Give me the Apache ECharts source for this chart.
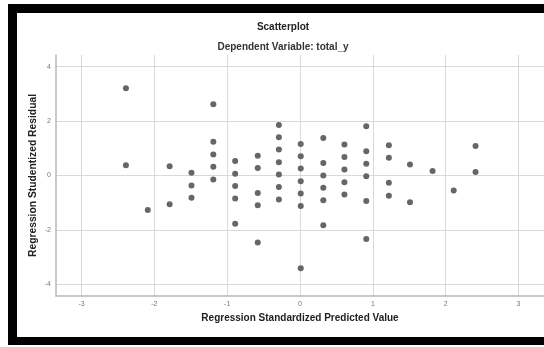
<!DOCTYPE html>
<html>
<head>
<meta charset="utf-8">
<script src="https://cdn.jsdelivr.net/npm/echarts@6/dist/echarts.min.js"></script>
<style>
  html, body { margin: 0; padding: 0; background: #fff; overflow: hidden; }
  #frame {
    position: absolute; left: 8px; top: 4px; width: 600px; height: 341px;
    box-sizing: border-box; border: 9px solid #000; border-bottom-width: 8px;
  }
  #chart { position: absolute; left: 0; top: 0; width: 544px; height: 347px; }
</style>
</head>
<body>
<div id="frame"></div>
<div id="chart"></div>
<script>
// standardized predicted value (x) and studentized residual (y), one pair per point
const predicted = [
  -2.39, -2.39,
  -2.09,
  -1.79, -1.79,
  -1.49, -1.49, -1.49,
  -1.19, -1.19, -1.19, -1.19, -1.19,
  -0.89, -0.89, -0.89, -0.89, -0.89,
  -0.58, -0.58, -0.58, -0.58, -0.58,
  -0.29, -0.29, -0.29, -0.29, -0.29, -0.29, -0.29,
  0.01, 0.01, 0.01, 0.01, 0.01, 0.01, 0.01,
  0.32, 0.32, 0.32, 0.32, 0.32, 0.32,
  0.61, 0.61, 0.61, 0.61, 0.61,
  0.91, 0.91, 0.91, 0.91, 0.91, 0.91,
  1.22, 1.22, 1.22, 1.22,
  1.51, 1.51,
  1.82,
  2.11,
  2.41, 2.41,
];
const residual = [
  3.21, 0.38,
  -1.27,
  0.34, -1.06,
  0.10, -0.37, -0.82,
  2.62, 1.24, 0.77, 0.32, -0.15,
  0.53, 0.06, -0.39, -0.85, -1.77,
  0.73, 0.28, -0.64, -1.09, -2.46,
  1.86, 1.41, 0.96, 0.49, 0.04, -0.42, -0.88,
  1.16, 0.71, 0.26, -0.21, -0.66, -1.12, -3.41,
  1.38, 0.46, 0.00, -0.45, -0.91, -1.83,
  1.14, 0.68, 0.22, -0.25, -0.70,
  1.81, 0.89, 0.43, -0.03, -0.94, -2.33,
  1.11, 0.65, -0.27, -0.74,
  0.40, -0.98,
  0.17,
  -0.55,
  1.08, 0.13,
];
const xTicks = [-3, -2, -1, 0, 1, 2, 3];
const yTicks = [-4, -2, 0, 2, 4];

const chart = echarts.init(document.getElementById("chart"), null, { renderer: "canvas" });
const font = "'Liberation Sans', Arial, sans-serif";

chart.setOption({
  animation: false,
  backgroundColor: "transparent",
  textStyle: { fontFamily: font },
  title: [
    {
      text: "Scatterplot", left: 283, top: 22, padding: 0, textAlign: "center",
      textStyle: { fontSize: 10, fontWeight: "bold", color: "#222", fontFamily: font },
    },
    {
      text: "Dependent Variable: total_y", left: 283, top: 42, padding: 0, textAlign: "center",
      textStyle: { fontSize: 10, fontWeight: "bold", color: "#333", fontFamily: font },
    },
  ],
  grid: { left: 56, right: 0, top: 55, bottom: 51, backgroundColor: "#fff", show: true, borderWidth: 0 },
  xAxis: {
    type: "value",
    min: -3.35,
    max: 3.35,
    name: "Regression Standardized Predicted Value",
    nameLocation: "middle",
    nameGap: 17,
    nameTextStyle: { fontSize: 10, fontWeight: "bold", color: "#222", fontFamily: font },
    axisLine: { show: true, onZero: false, lineStyle: { color: "#b8b8b8", width: 1.5 } },
    axisTick: { show: false, customValues: xTicks },
    axisLabel: { customValues: xTicks, color: "#777", fontSize: 7, margin: 5 },
    splitLine: { show: true, lineStyle: { color: "#d9d9d9", width: 1 } },
  },
  yAxis: {
    type: "value",
    min: -4.43,
    max: 4.43,
    name: "Regression Studentized Residual",
    nameLocation: "middle",
    nameGap: 18,
    nameMoveOverlap: false,
    nameTextStyle: { fontSize: 10.3, fontWeight: "bold", color: "#222", fontFamily: font },
    axisLine: { show: true, onZero: false, lineStyle: { color: "#b8b8b8", width: 1.5 } },
    axisTick: { show: false, customValues: yTicks },
    axisLabel: { customValues: yTicks, color: "#777", fontSize: 7, margin: 5 },
    splitLine: { show: true, lineStyle: { color: "#d9d9d9", width: 1 } },
  },
  series: [
    {
      type: "scatter",
      data: predicted.map((x, i) => [x, residual[i]]),
      symbol: "circle",
      symbolSize: 6,
      itemStyle: { color: "#666", opacity: 1 },
    },
  ],
});
</script>
</body>
</html>
